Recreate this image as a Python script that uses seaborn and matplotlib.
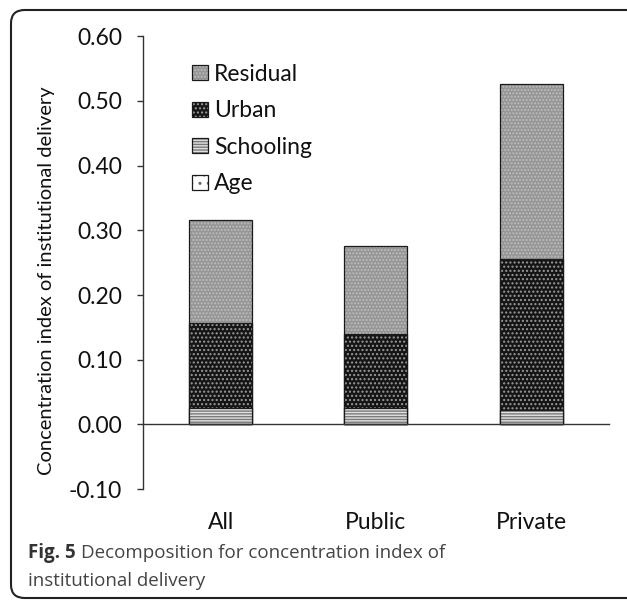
import numpy as np
import pandas as pd
import matplotlib
matplotlib.use('Agg')
import matplotlib.pyplot as plt
import seaborn as sns
from matplotlib.colors import to_rgba
from matplotlib.patches import FancyBboxPatch
from matplotlib.ticker import FormatStrFormatter, MultipleLocator

# values
groups = ['All', 'Public', 'Private']
age = [0.001, 0.001, 0.001]
schooling = [0.025, 0.025, 0.022]
urban = [0.131, 0.114, 0.232]
residual = [0.159, 0.136, 0.271]

components = ['Age', 'Schooling', 'Urban', 'Residual']
# face, hatch, hatch colour
styles = {
    'Residual': ('#959595', '.....', '#bdbdbd'),
    'Urban': ('#151515', '....', '#9a9a9a'),
    'Schooling': ('#7a7a7a', '------', '#e0e0e0'),
    'Age': ('#ffffff', '..', '#666666'),
}

df = pd.DataFrame({'group': groups, 'Age': age, 'Schooling': schooling,
                   'Urban': urban, 'Residual': residual})
# cumulative tops, so each layer is drawn over the one above it
cum = df[components].cumsum(axis=1)
cum['group'] = df['group']

sns.set_style('white')
plt.rcParams['font.family'] = ['Lato', 'DejaVu Sans']
plt.rcParams['hatch.linewidth'] = 1.0

fig = plt.figure(figsize=(6.27, 6.01), dpi=100)
ax = fig.add_axes([0.228, 0.186, 0.743, 0.754])


def paint(p, face, hatch, hcol):
    p.set_facecolor(face)
    p.set_hatch(hatch)
    p.set_edgecolor('#1a1a1a')
    p.set_linewidth(0.9)
    if hasattr(p, 'set_hatchcolor'):
        p.set_hatchcolor(hcol)
    else:
        p._hatch_color = to_rgba(hcol)


for comp in components[::-1]:
    n0 = len(ax.patches)
    sns.barplot(data=cum, x='group', y=comp, order=groups, width=0.405,
                label=comp, ax=ax, errorbar=None)
    for p in ax.patches[n0:]:
        paint(p, *styles[comp])

ax.set_xlim(-0.5, 2.5)
ax.set_ylim(-0.1, 0.6)
ax.yaxis.set_major_locator(MultipleLocator(0.1))
ax.yaxis.set_major_formatter(FormatStrFormatter('%.2f'))

for s in ['top', 'right']:
    ax.spines[s].set_visible(False)
ax.spines['bottom'].set_position(('data', 0))
for s in ['left', 'bottom']:
    ax.spines[s].set_color('#333333')
    ax.spines[s].set_linewidth(1.0)

ax.set_xticks([0, 1, 2])
ax.set_xticklabels(groups)
ax.set_xticks([0.5, 1.5, 2.5], minor=True)
ax.tick_params(axis='x', which='major', length=0, pad=63, labelsize=16.5, labelcolor='#111111')
ax.tick_params(axis='x', which='minor', length=6, width=1, color='#333333', direction='out')
ax.tick_params(axis='y', length=4, width=1, color='#333333', direction='out', pad=11,
               labelsize=16.5, labelcolor='#111111', left=True)
ax.set_xlabel('')
ax.set_ylabel('Concentration index of institutional delivery', fontsize=14.5,
              color='#111111')
ax.yaxis.set_label_coords(-0.189, 0.46)

leg = ax.legend(loc='upper left', bbox_to_anchor=(0.105, 0.939), frameon=False,
                fontsize=16.5, borderpad=0, borderaxespad=0, handlelength=0.72,
                handleheight=0.62, handletextpad=0.25, labelspacing=0.68)
for lp, comp in zip(leg.get_patches(), components[::-1]):
    paint(lp, *styles[comp])
for t in leg.get_texts():
    t.set_color('#111111')

# caption and frame
frame = FancyBboxPatch((11 / 627, 3 / 601), 640 / 627, 588 / 601,
                       boxstyle='round,pad=0,rounding_size=0.022',
                       transform=fig.transFigure, fill=False,
                       edgecolor='#222222', linewidth=1.5, clip_on=False)
fig.patches.append(frame)

cap_font = ['Open Sans', 'DejaVu Sans']
t1 = fig.text(28 / 627, 1 - 558 / 601, 'Fig. 5', fontsize=13.5, fontweight='bold',
              family=cap_font, color='#333333', va='baseline')
fig.canvas.draw()
bb = t1.get_window_extent()
fig.text(bb.x1 / 627 + 5 / 627, 1 - 558 / 601, 'Decomposition for concentration index of',
         fontsize=13.5, family=cap_font, color='#444444', va='baseline')
fig.text(28 / 627, 1 - 586 / 601, 'institutional delivery', fontsize=13.5,
         family=cap_font, color='#444444', va='baseline')

fig.savefig('out.png', dpi=100)
